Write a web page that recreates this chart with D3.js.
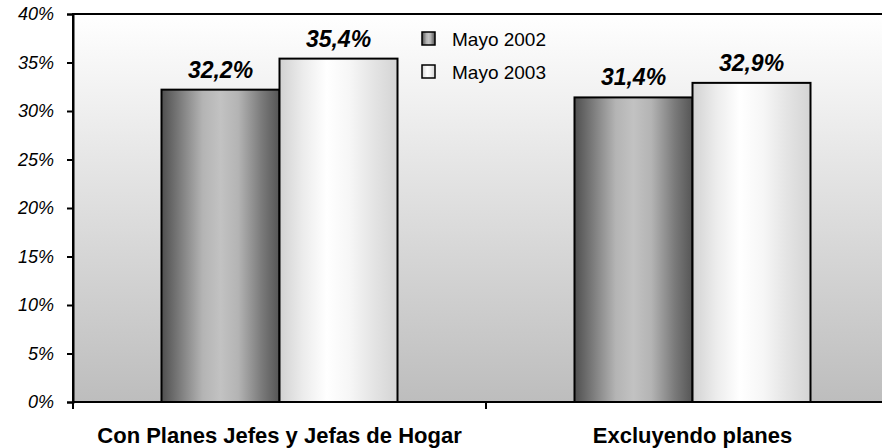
<!DOCTYPE html>
<html>
<head>
<meta charset="utf-8">
<script src="https://cdn.jsdelivr.net/npm/d3@7"></script>
<style>
  html, body { margin: 0; padding: 0; background: #ffffff; }
  svg { display: block; }
  text { font-family: "Liberation Sans", Arial, sans-serif; }
</style>
</head>
<body>
<svg id="chart" width="882" height="448"></svg>
<script>
// ---- data ----
const categories = ["Con Planes Jefes y Jefas de Hogar", "Excluyendo planes"];
const series = ["Mayo 2002", "Mayo 2003"];
const values2002 = [0.322, 0.314];
const values2003 = [0.354, 0.329];
const yTicks = [0, 0.05, 0.10, 0.15, 0.20, 0.25, 0.30, 0.35, 0.40];

const seriesValues = [values2002, values2003];

const svg = d3.select("#chart");
const margin = { left: 73, top: 14, right: -17, bottom: 46 };
const W = 882, H = 448;
const plotL = margin.left, plotR = W - margin.right, plotT = margin.top, plotB = H - margin.bottom;

const locale = d3.formatLocale({ decimal: ",", thousands: ".", grouping: [3], currency: ["", ""] });
const fmtLabel = locale.format(".1%");
const fmtTick = locale.format(".0%");

const y = d3.scaleLinear().domain([0, 0.4]).range([plotB, plotT]);
const x = d3.scaleBand().domain(categories).range([plotL, plotR]).paddingInner(0).paddingOuter(0);
const xs = d3.scaleBand().domain(series).range([0, x.bandwidth()]).paddingInner(0).paddingOuter(0.75);

const defs = svg.append("defs");
const bg = defs.append("linearGradient").attr("id", "bgGrad").attr("x1", 0).attr("y1", 0).attr("x2", 0).attr("y2", 1);
bg.append("stop").attr("offset", "0%").attr("stop-color", "#ffffff");
bg.append("stop").attr("offset", "100%").attr("stop-color", "#bdbdbd");

const g1 = defs.append("linearGradient").attr("id", "grad0").attr("x1", 0).attr("y1", 0).attr("x2", 1).attr("y2", 0);
[["0%", "#4f4f4f"], ["15%", "#7a7a7a"], ["35%", "#b4b4b4"], ["50%", "#c2c2c2"], ["65%", "#b4b4b4"], ["85%", "#7a7a7a"], ["100%", "#555555"]]
  .forEach(([o, c]) => g1.append("stop").attr("offset", o).attr("stop-color", c));
const g2 = defs.append("linearGradient").attr("id", "grad1").attr("x1", 0).attr("y1", 0).attr("x2", 1).attr("y2", 0);
[["0%", "#d2d2d2"], ["20%", "#ececec"], ["40%", "#ffffff"], ["60%", "#f6f6f6"], ["80%", "#e4e4e4"], ["100%", "#d4d4d4"]]
  .forEach(([o, c]) => g2.append("stop").attr("offset", o).attr("stop-color", c));

// plot area
svg.append("rect")
  .attr("x", plotL).attr("y", plotT)
  .attr("width", plotR - plotL).attr("height", plotB - plotT)
  .attr("fill", "url(#bgGrad)")
  .attr("stroke", "#000").attr("stroke-width", 2);

// bars
const groups = svg.append("g").selectAll("g")
  .data(categories)
  .join("g")
  .attr("transform", d => `translate(${x(d)},0)`);

groups.selectAll("rect")
  .data((d, i) => series.map((s, j) => ({ s, j, v: seriesValues[j][i] })))
  .join("rect")
  .attr("x", d => xs(d.s))
  .attr("y", d => y(d.v))
  .attr("width", xs.bandwidth())
  .attr("height", d => y(0) - y(d.v))
  .attr("fill", d => `url(#grad${d.j})`)
  .attr("stroke", "#000").attr("stroke-width", 2);

groups.selectAll("text.lbl")
  .data((d, i) => series.map((s, j) => ({ s, j, v: seriesValues[j][i] })))
  .join("text")
  .attr("class", "lbl")
  .attr("x", d => xs(d.s) + xs.bandwidth() / 2)
  .attr("y", d => y(d.v) - 12)
  .attr("text-anchor", "middle")
  .style("font-size", "23px").style("font-weight", "bold").style("font-style", "italic")
  .text(d => fmtLabel(d.v));

// y axis
const yAxis = svg.append("g")
  .attr("transform", `translate(${plotL},0)`)
  .call(d3.axisLeft(y).tickValues(yTicks).tickSize(6).tickPadding(13).tickFormat(fmtTick));
yAxis.select(".domain").attr("stroke", "#000").attr("stroke-width", 2);
yAxis.selectAll(".tick line").attr("stroke", "#000").attr("stroke-width", 2);
yAxis.selectAll(".tick text")
  .style("font-size", "18px").style("font-style", "italic").attr("fill", "#000")
  .attr("font-family", null);

// x axis (ticks at category boundaries)
const bounds = categories.map(c => x(c)).concat([x(categories[categories.length - 1]) + x.bandwidth()]);
svg.append("line")
  .attr("x1", plotL).attr("x2", plotR).attr("y1", y(0)).attr("y2", y(0))
  .attr("stroke", "#000").attr("stroke-width", 2);
svg.append("g").selectAll("line")
  .data(bounds)
  .join("line")
  .attr("x1", d => d).attr("x2", d => d)
  .attr("y1", y(0)).attr("y2", y(0) + 7)
  .attr("stroke", "#000").attr("stroke-width", 2);

svg.append("g").selectAll("text")
  .data(categories)
  .join("text")
  .attr("x", d => x(d) + x.bandwidth() / 2)
  .attr("y", y(0) + 41)
  .attr("text-anchor", "middle")
  .style("font-size", "22px").style("font-weight", "bold")
  .text(d => d);

// legend
const legend = svg.append("g").attr("transform", "translate(422,32)");
const li = legend.selectAll("g").data(series).join("g")
  .attr("transform", (d, i) => `translate(0,${i * 33})`);
li.append("rect")
  .attr("width", 13).attr("height", 13)
  .attr("fill", (d, i) => `url(#grad${i})`)
  .attr("stroke", "#000").attr("stroke-width", 1.5);
li.append("text")
  .attr("x", 30).attr("y", 14)
  .style("font-size", "19px")
  .text(d => d);
</script>
</body>
</html>
